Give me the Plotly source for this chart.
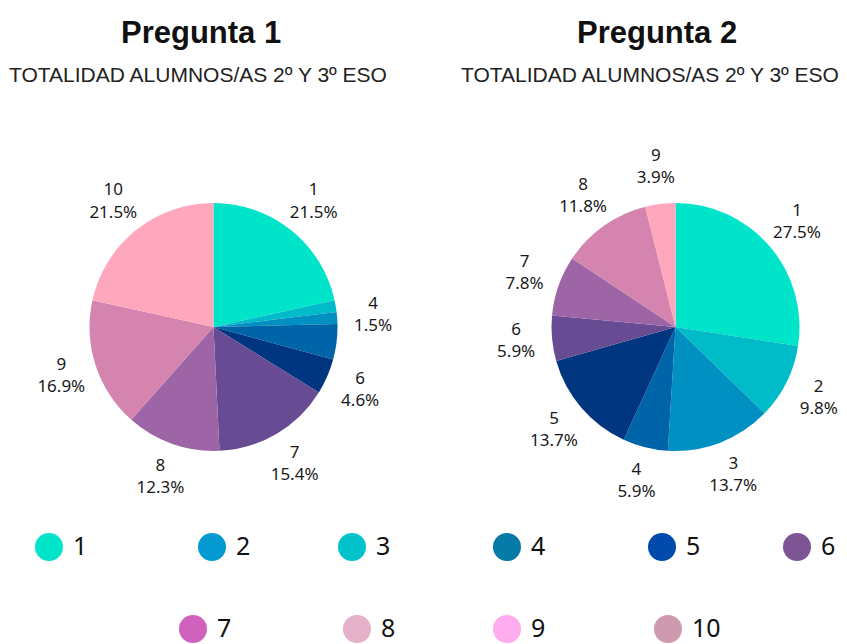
import math
import plotly.graph_objects as go

# ---------------- data ----------------
categories = ["1", "2", "3", "4", "5", "6", "7", "8", "9", "10"]
pregunta1_counts = [14, 0, 1, 1, 3, 3, 10, 8, 11, 14]   # 65 alumnos/as
pregunta2_counts = [14, 5, 7, 3, 7, 3, 4, 6, 2, 0]      # 51 alumnos/as
# which slices show a label in the original picture
pregunta1_show = [True, False, False, True, False, True, True, True, True, True]
pregunta2_show = [True, True, True, True, True, True, True, True, True, False]

titles = ["Pregunta 1", "Pregunta 2"]
subtitle = "TOTALIDAD ALUMNOS/AS 2º Y 3º ESO"

# colours used for the slices (applied in order to non-empty slices)
slice_palette = ["#00E4C9", "#00BBC8", "#0090C2", "#0064A9", "#003680",
                 "#674C93", "#9E65A6", "#D484AF", "#FFA8BD", "#FFC2D0"]
# colours of the legend bullets
legend_colors = ["#00E5C9", "#0399D1", "#00C3CB", "#077BA7", "#004AAD",
                 "#7E5594", "#D062BD", "#E4B1C8", "#FFADEF", "#CE9AAF"]

# ---------------- layout constants (page pixels) ----------------
PAGE_W, PAGE_H = 847, 644
OFF = 8                      # default body margin of the html page
W, H = PAGE_W - OFF, PAGE_H - OFF
R = 124                      # pie radius
R_LABEL = 160                # radius at which the slice labels sit
pie_centers = [(213.5, 327), (675.5, 327)]
title_x = [201, 657]
sub_x = [198, 650]
legend_pos = [(49, 547), (212, 547), (352, 547), (507, 547), (662, 547), (797, 547),
              (193, 629), (357, 629), (507, 629), (668, 629)]
Y_BOTTOM = OFF + H           # last page row covered by the figure


def slice_colors(counts):
    out, k = [], 0
    for v in counts:
        if v > 0:
            out.append(slice_palette[k])
            k += 1
        else:
            out.append("#ffffff")
    return out


def label_points(counts, show, center):
    """label positions along the middle angle of every slice (clockwise from 12h)"""
    total = float(sum(counts))
    cx, cy = center
    xs, ys, texts = [], [], []
    cum = 0.0
    for lab, c, s in zip(categories, counts, show):
        mid = (cum + c / 2.0) / total * 2 * math.pi
        cum += c
        if not s or c == 0:
            continue
        xs.append(cx + R_LABEL * math.sin(mid))
        ys.append(cy - R_LABEL * math.cos(mid))
        texts.append("%s<br>%.1f%%" % (lab, round(100.0 * c / total, 1)))
    return xs, ys, texts


fig = go.Figure()

for i, (counts, show) in enumerate([(pregunta1_counts, pregunta1_show),
                                    (pregunta2_counts, pregunta2_show)]):
    cx, cy = pie_centers[i]
    fig.add_trace(go.Pie(
        labels=categories,
        values=counts,
        sort=False,
        direction="clockwise",
        rotation=0,
        marker=dict(colors=slice_colors(counts), line=dict(width=0)),
        textinfo="none",
        showlegend=False,
        hoverinfo="label+percent",
        domain=dict(x=[(cx - R - OFF) / W, (cx + R - OFF) / W],
                    y=[(Y_BOTTOM - cy - R) / H, (Y_BOTTOM - cy + R) / H]),
    ))
    lx, ly, lt = label_points(counts, show, pie_centers[i])
    fig.add_trace(go.Scatter(
        x=lx, y=ly, text=lt, mode="text",
        textposition="middle center",
        textfont=dict(family="Noto Sans", size=17, color="#1a1a1a"),
        showlegend=False, hoverinfo="skip", cliponaxis=False,
    ))

# legend drawn as scatter traces on the hidden pixel-like axis
fig.add_trace(go.Scatter(
    x=[p[0] for p in legend_pos],
    y=[p[1] for p in legend_pos],
    mode="markers",
    marker=dict(size=28, color=legend_colors, line=dict(width=0)),
    showlegend=False, hoverinfo="skip", cliponaxis=False,
))
fig.add_trace(go.Scatter(
    x=[p[0] + 24 for p in legend_pos],
    y=[p[1] + 2 for p in legend_pos],
    mode="text",
    text=categories,
    textposition="middle right",
    textfont=dict(family="Noto Sans", size=25, color="#111111"),
    showlegend=False, hoverinfo="skip", cliponaxis=False,
))

annotations = []
for i in range(2):
    annotations.append(dict(
        x=title_x[i], y=32, xref="x", yref="y",
        text="<b>%s</b>" % titles[i], showarrow=False,
        xanchor="center", yanchor="middle",
        font=dict(family="Liberation Sans", size=31, color="#111111")))
    annotations.append(dict(
        x=sub_x[i], y=74, xref="x", yref="y",
        text=subtitle, showarrow=False,
        xanchor="center", yanchor="middle",
        font=dict(family="Liberation Sans", size=21, color="#222222")))

fig.update_layout(
    width=W, height=H,
    margin=dict(l=0, r=0, t=0, b=0),
    paper_bgcolor="white", plot_bgcolor="rgba(0,0,0,0)",
    xaxis=dict(range=[OFF, PAGE_W], visible=False, fixedrange=True),
    yaxis=dict(range=[Y_BOTTOM, OFF], visible=False, fixedrange=True),
    annotations=annotations,
)

fig.write_html("out.html")
